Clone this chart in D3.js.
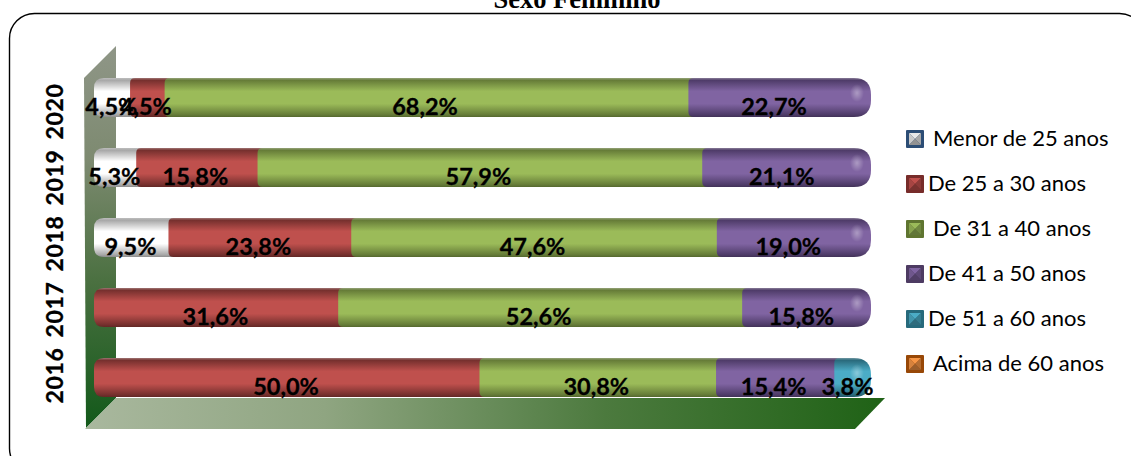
<!DOCTYPE html>
<html><head><meta charset="utf-8">
<script src="https://cdn.jsdelivr.net/npm/d3@7"></script>
<style>html,body{margin:0;padding:0;background:#fff;overflow:hidden}svg{display:block}</style>
</head><body><svg id="c" width="1131" height="456"></svg>
<script>
const years = ["2016","2017","2018","2019","2020"];
const seriesNames = ["Menor de 25 anos","De 25 a 30 anos","De 31 a 40 anos","De 41 a 50 anos","De 51 a 60 anos","Acima de 60 anos"];
const menor25 = [0,0,9.5,5.3,4.5];
const de25a30 = [50.0,31.6,23.8,15.8,4.5];
const de31a40 = [30.8,52.6,47.6,57.9,68.2];
const de41a50 = [15.4,15.8,19.0,21.1,22.7];
const de51a60 = [3.8,0,0,0,0];
const acima60 = [0,0,0,0,0];
const seriesValues = [menor25,de25a30,de31a40,de41a50,de51a60,acima60];
const palette = [
 {d:"#a8a8a8",m:"#ffffff",mk:"#2c4d75",t:"#e8e8e8"},
 {d:"#76302e",m:"#bf504d",mk:"#772c2a",t:"#c0504d"},
 {d:"#667c38",m:"#9bbb59",mk:"#5f7530",t:"#9bbb59"},
 {d:"#4f3c69",m:"#8064a2",mk:"#4d3b62",t:"#8064a2"},
 {d:"#2a6a7c",m:"#4bacc6",mk:"#276a7c",t:"#4bacc6"},
 {d:"#a5581b",m:"#f79646",mk:"#984807",t:"#f79646"}
];

const svg = d3.select("#c");
const defs = svg.append("defs");
function lin(id,x2,y2,stops){
  const g=defs.append("linearGradient").attr("id",id).attr("x1",0).attr("y1",0).attr("x2",x2).attr("y2",y2);
  stops.forEach(s=>g.append("stop").attr("offset",s[0]).attr("stop-color",s[1]));
}
palette.forEach((p,i)=>{
  lin("bar"+i,0,1,[[0,d3.interpolateRgb(p.d,"#ddd")(.4)],[.06,p.d],[.34,p.m],[.66,p.m],[.94,p.d],[1,d3.color(p.d).darker(.5)]]);
});
lin("wall",0,1,[[0,"#8f9687"],[.3,"#7d8a70"],[.62,"#4a7040"],[1,"#12591a"]]);
lin("floor",1,0,[[0,"#a9b89e"],[.3,"#8fa581"],[.65,"#4c7a3e"],[1,"#1f6216"]]);
const hl=defs.append("radialGradient").attr("id","hl");
hl.append("stop").attr("offset",0).attr("stop-color","#fff").attr("stop-opacity",.35);
hl.append("stop").attr("offset",1).attr("stop-color","#fff").attr("stop-opacity",0);

// frame
svg.append("rect").attr("x",9.5).attr("y",13.5).attr("width",1135).attr("height",460)
   .attr("rx",25).attr("fill","#fff").attr("stroke","#000").attr("stroke-width",1.4);

// title
svg.append("text").attr("x",577).attr("y",8).attr("text-anchor","middle")
   .attr("font-family","'Liberation Serif'").attr("font-weight","bold").attr("font-size",26.5).text("Sexo Feminino");

// scales
const x = d3.scaleLinear().domain([0,100]).range([94,871]);
const boundX = d3.scaleLinear().domain([0,100]).range([95.5,863.5]);
const labelX = d3.scaleLinear().domain([0,100]).range([94,862]);
const y = d3.scaleBand().domain(years).range([412.5,62.5]).paddingInner(31/70).paddingOuter(15.5/70);
const yLabel = d3.scalePoint().domain(years).range([375,111]);

// wall and floor
const line = d3.line();
svg.append("path").attr("d",line([[84,78],[116,46],[116,398],[86,428]])+"Z").attr("fill","url(#wall)");
svg.append("path").attr("d",line([[85,429],[116,398],[885,398],[855,429]])+"Z").attr("fill","url(#floor)");

// bars
function seg(x0,x1,top,h,rl,rr){
  return `M${x0+rl},${top}L${x1-rr},${top}Q${x1},${top} ${x1},${top+rr}L${x1},${top+h-rr}Q${x1},${top+h} ${x1-rr},${top+h}L${x0+rl},${top+h}Q${x0},${top+h} ${x0},${top+h-rl}L${x0},${top+rl}Q${x0},${top} ${x0+rl},${top}Z`;
}
const barsG = svg.append("g");
const labelsG = svg.append("g");
years.forEach((yr,yi)=>{
  let cum=0;
  const top=y(yr), h=y.bandwidth();
  const parts=[];
  seriesValues.forEach((s,si)=>{
    const v=s[yi];
    if(v>0){parts.push({si,v,c0:cum,c1:cum+v});}
    cum+=v;
  });
  parts.forEach((p,pi)=>{
    const last=pi===parts.length-1, first=pi===0;
    const x0=first?x(0):boundX(p.c0);
    const x1=last?x(100):boundX(p.c1)+14;
    barsG.append("path").attr("d",seg(x0,x1,top,h,first?10:5,last?17:0)).attr("fill",`url(#bar${p.si})`);
    if(last){
      barsG.append("ellipse").attr("cx",x(100)-14).attr("cy",top+15).attr("rx",7).attr("ry",9).attr("fill","url(#hl)");
    }
    labelsG.append("text").attr("x",labelX((p.c0+p.c1)/2)).attr("y",top+36.5)
      .attr("text-anchor","middle").attr("font-family","Lato").attr("font-weight","bold").attr("font-size",23.5)
      .attr("fill","#000").attr("stroke","#000").attr("stroke-width",.3).text(p.v.toFixed(1).replace(".",",")+"%");
  });
});

// y axis
const ax = svg.append("g").attr("transform","translate(63,0)").call(d3.axisLeft(yLabel).tickSize(0).tickPadding(0));
ax.select(".domain").remove();
ax.selectAll("text").attr("transform","rotate(-90)")
  .attr("x",0).attr("y",0).attr("dy",0).attr("text-anchor","middle")
  .attr("font-family","Lato").attr("font-weight","bold").attr("font-size",23).attr("letter-spacing",.6)
  .attr("fill","#000").attr("stroke","#000").attr("stroke-width",.3);

// legend
const legY = d3.scalePoint().domain(seriesNames).range([139,364]);
const legDx = [933,928,933,928,928,933];
const leg = svg.append("g").selectAll("g").data(seriesNames).join("g").attr("transform",d=>`translate(906,${legY(d)})`);
leg.each(function(d,i){
  const g=d3.select(this), p=palette[i], s=18, b=3;
  g.append("rect").attr("x",0).attr("y",-9).attr("width",s).attr("height",s).attr("fill",p.mk).attr("rx",1);
  g.append("path").attr("d",line([[b,-9+b],[s-b,-9+b],[s/2,0]])+"Z").attr("fill",p.t);
  g.append("path").attr("d",line([[b,-9+b],[s/2,0],[b,9-b]])+"Z").attr("fill",d3.color(p.t).darker(.4));
  g.append("path").attr("d",line([[s-b,-9+b],[s-b,9-b],[s/2,0]])+"Z").attr("fill",d3.color(p.t).darker(.9));
  g.append("path").attr("d",line([[b,9-b],[s-b,9-b],[s/2,0]])+"Z").attr("fill",d3.color(p.t).darker(1.3));
  g.append("text").attr("x",legDx[i]-906).attr("y",7).attr("font-family","Lato").attr("font-size",22).attr("fill","#000").text(d);
});
</script></body></html>
